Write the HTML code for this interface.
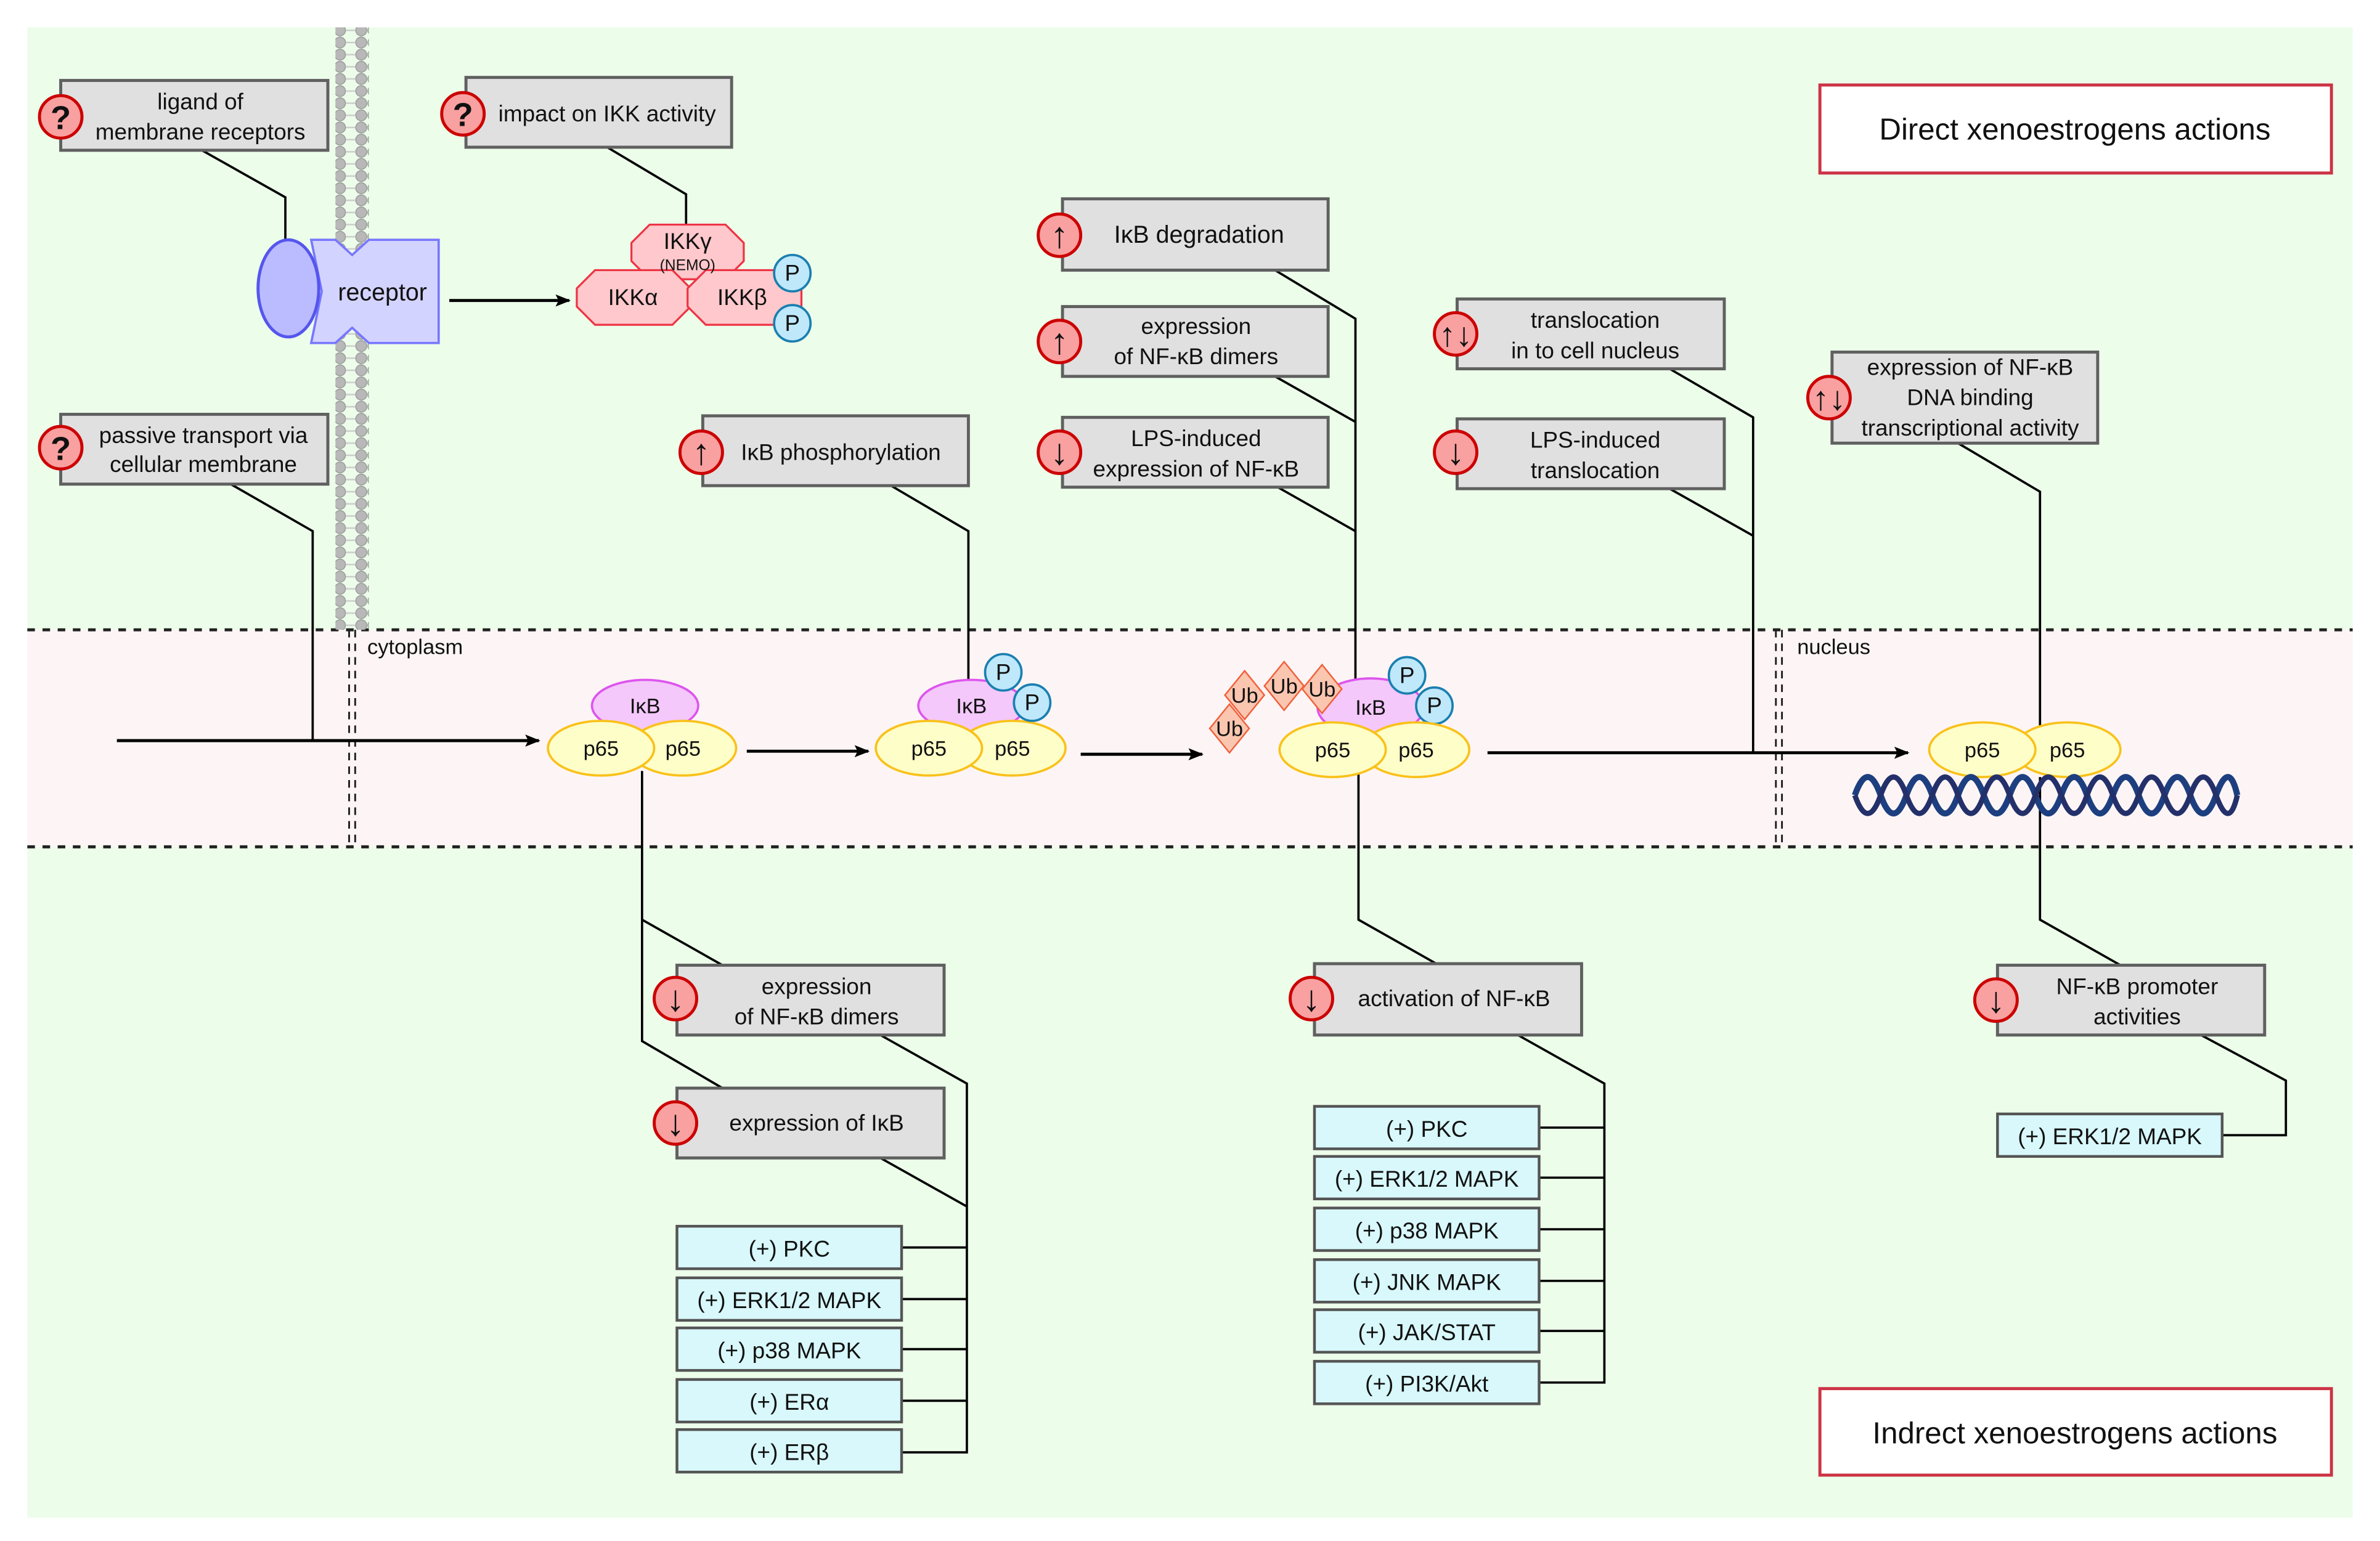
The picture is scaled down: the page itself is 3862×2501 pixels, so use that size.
<!DOCTYPE html>
<html><head><meta charset="utf-8"><style>
html,body{margin:0;padding:0;background:#fff}
svg{display:block}
text{font-family:"Liberation Sans",Arial,sans-serif;fill:#111}
</style></head><body>
<svg width="3862" height="2501" viewBox="0 0 1568 1015.4" xmlns="http://www.w3.org/2000/svg">
<defs>
<marker id="ar" markerWidth="10" markerHeight="8" refX="9" refY="4" orient="auto" markerUnits="userSpaceOnUse"><path d="M0,0 L10,4 L0,8 L2,4 z" fill="#000"/></marker>
<pattern id="mem" width="22" height="8" patternUnits="userSpaceOnUse"><circle cx="4" cy="4" r="3.6" fill="#b8b8b8" stroke="#999" stroke-width="0.6"/><circle cx="18" cy="4" r="3.6" fill="#b8b8b8" stroke="#999" stroke-width="0.6"/><line x1="8" y1="4" x2="14" y2="4" stroke="#ccc" stroke-width="1"/></pattern>
</defs>
<rect x="18" y="18" width="1532" height="982" fill="#ecfdea"/>
<rect x="18" y="415" width="1532" height="143" fill="#fdf5f5"/>
<line x1="18" y1="415" x2="1550" y2="415" stroke="#222" stroke-width="2" stroke-dasharray="5,5"/>
<line x1="18" y1="558" x2="1550" y2="558" stroke="#222" stroke-width="2" stroke-dasharray="5,5"/>
<g stroke="#222" stroke-width="1.2" stroke-dasharray="5,4">
<line x1="230" y1="415" x2="230" y2="558"/><line x1="234" y1="415" x2="234" y2="558"/>
<line x1="1170" y1="415" x2="1170" y2="558"/><line x1="1174" y1="415" x2="1174" y2="558"/></g>
<text x="242" y="431" font-size="14">cytoplasm</text>
<text x="1184" y="431" font-size="14">nucleus</text>
<rect x="221" y="18" width="22" height="397" fill="url(#mem)"/>
<g fill="none" stroke="#000" stroke-width="1.5">
<polyline points="133,99 188,130 188,158"/>
<polyline points="400,97 452,128 452,148"/>
<polyline points="152,319 206,350 206,488"/>
<polyline points="587,320 638,350 638,452"/>
<polyline points="840,178 893,210 893,452"/>
<line x1="840" y1="248" x2="893" y2="278"/><line x1="840" y1="320" x2="893" y2="350"/>
<polyline points="1100,243 1155,275 1155,496"/>
<line x1="1100" y1="322" x2="1155" y2="353"/>
<polyline points="1290,292 1344,324 1344,478"/>
<polyline points="423,508 423,686 476,717"/><line x1="423" y1="606" x2="476" y2="636"/>
<polyline points="580,682 637,714 637,957 594,957"/><line x1="580" y1="763" x2="637" y2="795"/>
<line x1="594" y1="822" x2="637" y2="822"/><line x1="594" y1="856" x2="637" y2="856"/><line x1="594" y1="889" x2="637" y2="889"/><line x1="594" y1="923" x2="637" y2="923"/>
<polyline points="895,510 895,606 948,636"/>
<polyline points="1000,682 1057,714 1057,911 1014,911"/>
<line x1="1014" y1="743" x2="1057" y2="743"/><line x1="1014" y1="776" x2="1057" y2="776"/><line x1="1014" y1="810" x2="1057" y2="810"/><line x1="1014" y1="844" x2="1057" y2="844"/><line x1="1014" y1="877" x2="1057" y2="877"/>
<polyline points="1344,512 1344,606 1397,636"/>
<polyline points="1450,682 1506,712 1506,748 1464,748"/>
</g>
<g stroke="#000" stroke-width="2" marker-end="url(#ar)">
<line x1="77" y1="488" x2="355" y2="488"/>
<line x1="296" y1="198" x2="375" y2="198"/>
<line x1="492" y1="495" x2="572" y2="495"/>
<line x1="712" y1="497" x2="792" y2="497"/>
<line x1="980" y1="496" x2="1257" y2="496"/>
</g>
<polygon points="205,158 221,158 232,168 243,158 289,158 289,226 243,226 232,216 221,226 205,226 212,192" fill="#d3d3ff" stroke="#7777ff" stroke-width="1.5"/>
<ellipse cx="190" cy="190" rx="20" ry="32" fill="#bbbbff" stroke="#5555ee" stroke-width="2"/>
<text x="252" y="198" font-size="16" text-anchor="middle">receptor</text>
<g fill="#ffc8cc" stroke="#ee3344" stroke-width="1.3">
<polygon points="428,148 478,148 490,160 490,172 478,184 428,184 416,172 416,160"/>
<polygon points="392,178 443,178 455,190 455,202 443,214 392,214 380,202 380,190"/>
<polygon points="465,178 516,178 528,190 528,202 516,214 465,214 453,202 453,190"/>
</g>
<text x="453" y="164" font-size="15" text-anchor="middle">IKKγ</text>
<text x="453" y="178" font-size="10" text-anchor="middle">(NEMO)</text>
<text x="417" y="201" font-size="15" text-anchor="middle">IKKα</text>
<text x="489" y="201" font-size="15" text-anchor="middle">IKKβ</text>
<g stroke-width="1.5">
<ellipse cx="425" cy="465" rx="35" ry="17" fill="#f4c8fb" stroke="#dd55ee"/>
<ellipse cx="450" cy="493" rx="35" ry="18" fill="#fefec8" stroke="#f9c11a"/>
<ellipse cx="396" cy="493" rx="35" ry="18" fill="#fefec8" stroke="#f9c11a"/>
<ellipse cx="640" cy="465" rx="35" ry="17" fill="#f4c8fb" stroke="#dd55ee"/>
<ellipse cx="667" cy="493" rx="35" ry="18" fill="#fefec8" stroke="#f9c11a"/>
<ellipse cx="612" cy="493" rx="35" ry="18" fill="#fefec8" stroke="#f9c11a"/>
<ellipse cx="903" cy="466" rx="35" ry="19" fill="#f4c8fb" stroke="#dd55ee"/>
</g>
<g fill="#bfe8fb" stroke="#1a7fb0" stroke-width="1.5">
<circle cx="522" cy="180" r="12"/><circle cx="522" cy="213" r="12"/>
<circle cx="661" cy="443" r="12"/><circle cx="680" cy="463" r="12"/>
<circle cx="927" cy="445" r="12"/><circle cx="945" cy="465" r="12"/>
</g>
<g font-size="15" text-anchor="middle"><text x="522" y="185">P</text><text x="522" y="218">P</text><text x="661" y="448">P</text><text x="680" y="468">P</text><text x="927" y="450">P</text><text x="945" y="470">P</text></g>
<g stroke-width="1.5">
<ellipse cx="933" cy="494" rx="35" ry="18" fill="#fefec8" stroke="#f9c11a"/>
<ellipse cx="878" cy="494" rx="35" ry="18" fill="#fefec8" stroke="#f9c11a"/>
<ellipse cx="1362" cy="494" rx="35" ry="18" fill="#fefec8" stroke="#f9c11a"/>
<ellipse cx="1306" cy="494" rx="35" ry="18" fill="#fefec8" stroke="#f9c11a"/>
</g>
<g fill="#fbc6b0" stroke="#f0603a" stroke-width="1">
<polygon points="810,464 823,480 810,496 797,480"/>
<polygon points="820,442 833,458 820,474 807,458"/>
<polygon points="846,436 859,452 846,468 833,452"/>
<polygon points="871,438 884,454 871,470 858,454"/>
</g>
<g font-size="14" text-anchor="middle"><text x="810" y="485">Ub</text><text x="820" y="463">Ub</text><text x="846" y="457">Ub</text><text x="871" y="459">Ub</text>
<text x="425" y="470">IκB</text><text x="640" y="470">IκB</text><text x="903" y="471">IκB</text>
<text x="396" y="498">p65</text><text x="450" y="498">p65</text><text x="612" y="498">p65</text><text x="667" y="498">p65</text>
<text x="878" y="499">p65</text><text x="933" y="499">p65</text><text x="1306" y="499">p65</text><text x="1362" y="499">p65</text></g>
<g fill="none" stroke-width="4">
<path d="M1222,524 Q1230.5,500 1239,524 T1256,524 T1273,524 T1290,524 T1307,524 T1324,524 T1341,524 T1358,524 T1375,524 T1392,524 T1409,524 T1426,524 T1443,524 T1460,524 T1474,524" stroke="#1d3f80"/>
<path d="M1222,524 Q1230.5,548 1239,524 T1256,524 T1273,524 T1290,524 T1307,524 T1324,524 T1341,524 T1358,524 T1375,524 T1392,524 T1409,524 T1426,524 T1443,524 T1460,524 T1474,524" stroke="#23306a" stroke-width="3.5"/>
</g>
<g fill="#e0e0e0" stroke="#606060" stroke-width="2">
<rect x="40" y="53" width="176" height="46"/><rect x="307" y="51" width="175" height="46"/>
<rect x="40" y="273" width="176" height="46"/><rect x="463" y="274" width="175" height="46"/>
<rect x="700" y="131" width="175" height="47"/><rect x="700" y="202" width="175" height="46"/>
<rect x="700" y="275" width="175" height="46"/><rect x="960" y="197" width="176" height="46"/>
<rect x="960" y="276" width="176" height="46"/><rect x="1207" y="232" width="175" height="60"/>
<rect x="446" y="636" width="176" height="46"/><rect x="446" y="717" width="176" height="46"/>
<rect x="866" y="635" width="176" height="47"/><rect x="1316" y="636" width="176" height="46"/>
</g>
<g fill="#f9a0a0" stroke="#cc0000" stroke-width="2">
<circle cx="40" cy="77" r="14"/><circle cx="305" cy="75" r="14"/><circle cx="40" cy="295" r="14"/><circle cx="462" cy="298" r="14"/>
<circle cx="698" cy="155" r="14"/><circle cx="698" cy="225" r="14"/><circle cx="698" cy="298" r="14"/>
<circle cx="959" cy="220" r="14"/><circle cx="959" cy="298" r="14"/><circle cx="1205" cy="262" r="14"/>
<circle cx="445" cy="658" r="14"/><circle cx="445" cy="740" r="14"/><circle cx="864" cy="658" r="14"/><circle cx="1315" cy="659" r="14"/>
</g>
<g font-size="22" font-weight="bold" text-anchor="middle"><text x="40" y="85">?</text><text x="305" y="83">?</text><text x="40" y="303">?</text></g>
<g font-size="24" text-anchor="middle"><text x="462" y="306">↑</text><text x="698" y="163">↑</text><text x="698" y="233">↑</text><text x="698" y="306">↓</text>
<text x="959" y="228" font-size="22">↑↓</text><text x="959" y="306">↓</text><text x="1205" y="270" font-size="22">↑↓</text>
<text x="445" y="666">↓</text><text x="445" y="748">↓</text><text x="864" y="666">↓</text><text x="1315" y="667">↓</text></g>
<g font-size="15" text-anchor="middle">
<text x="132" y="72">ligand of</text><text x="132" y="92">membrane receptors</text>
<text x="400" y="80">impact on IKK activity</text>
<text x="134" y="292">passive transport via</text><text x="134" y="311">cellular membrane</text>
<text x="554" y="303">IκB phosphorylation</text>
<text x="790" y="160" font-size="16">IκB degradation</text>
<text x="788" y="220">expression</text><text x="788" y="240">of NF-κB dimers</text>
<text x="788" y="294">LPS-induced</text><text x="788" y="314">expression of NF-κB</text>
<text x="1051" y="216">translocation</text><text x="1051" y="236">in to cell nucleus</text>
<text x="1051" y="295">LPS-induced</text><text x="1051" y="315">translocation</text>
<text x="1298" y="247">expression of NF-κB</text><text x="1298" y="267">DNA binding</text><text x="1298" y="287">transcriptional activity</text>
<text x="538" y="655">expression</text><text x="538" y="675">of NF-κB dimers</text>
<text x="538" y="745">expression of IκB</text>
<text x="958" y="663">activation of NF-κB</text>
<text x="1408" y="655">NF-κB promoter</text><text x="1408" y="675">activities</text>
</g>
<g fill="#d8f8fb" stroke="#555" stroke-width="1.8">
<rect x="446" y="808" width="148" height="28"/><rect x="446" y="842" width="148" height="28"/><rect x="446" y="875" width="148" height="28"/><rect x="446" y="909" width="148" height="28"/><rect x="446" y="942" width="148" height="28"/>
<rect x="866" y="729" width="148" height="28"/><rect x="866" y="762" width="148" height="28"/><rect x="866" y="796" width="148" height="28"/><rect x="866" y="830" width="148" height="28"/><rect x="866" y="863" width="148" height="28"/><rect x="866" y="897" width="148" height="28"/>
<rect x="1316" y="734" width="148" height="28"/>
</g>
<g font-size="15" text-anchor="middle">
<text x="520" y="828">(+) PKC</text><text x="520" y="862">(+) ERK1/2 MAPK</text><text x="520" y="895">(+) p38 MAPK</text><text x="520" y="929">(+) ERα</text><text x="520" y="962">(+) ERβ</text>
<text x="940" y="749">(+) PKC</text><text x="940" y="782">(+) ERK1/2 MAPK</text><text x="940" y="816">(+) p38 MAPK</text><text x="940" y="850">(+) JNK MAPK</text><text x="940" y="883">(+) JAK/STAT</text><text x="940" y="917">(+) PI3K/Akt</text>
<text x="1390" y="754">(+) ERK1/2 MAPK</text>
</g>
<g fill="#fff" stroke="#cc3344" stroke-width="2">
<rect x="1199" y="56" width="337" height="58"/><rect x="1199" y="915" width="337" height="57"/>
</g>
<g font-size="20" text-anchor="middle"><text x="1367" y="92">Direct xenoestrogens actions</text><text x="1367" y="951">Indrect xenoestrogens actions</text></g>
</svg>
</body></html>
